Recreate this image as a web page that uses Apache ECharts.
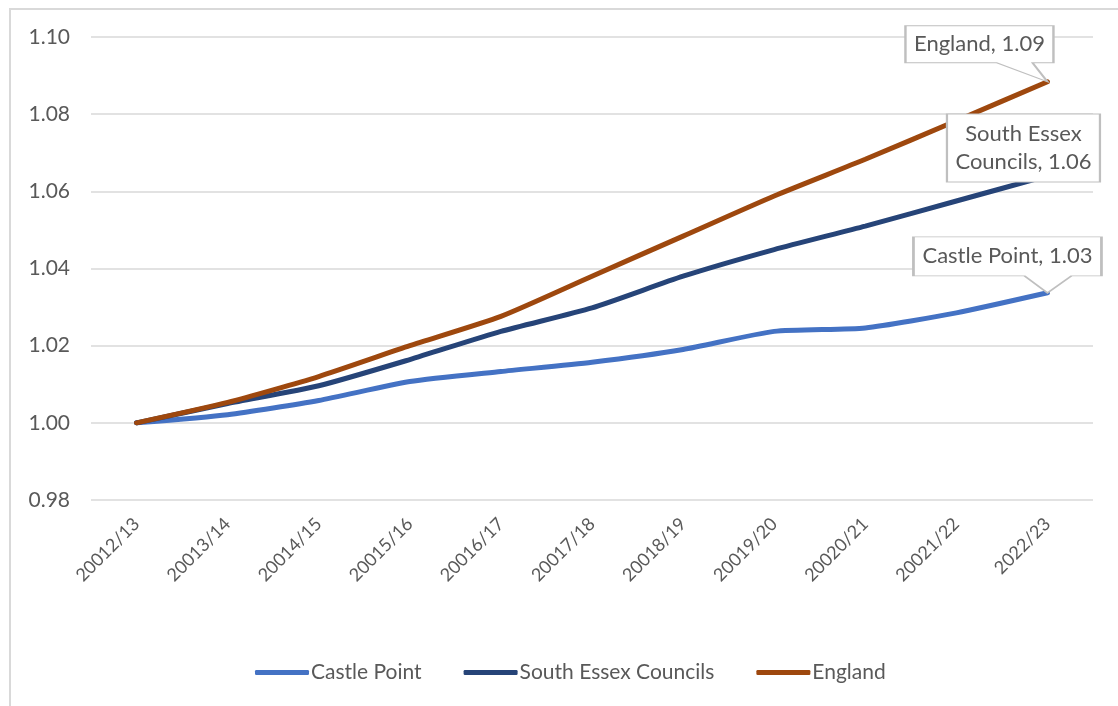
<!DOCTYPE html>
<html>
<head>
<meta charset="utf-8">
<script src="https://cdn.jsdelivr.net/npm/echarts@6/dist/echarts.min.js"></script>
<style>
html,body{margin:0;padding:0;background:#fff;}
#frame{position:absolute;left:9px;top:8px;right:0;bottom:0;border-top:2px solid #d9d9d9;border-left:2px solid #d9d9d9;}
#chart{position:absolute;left:0;top:0;width:1118px;height:706px;}
</style>
</head>
<body>
<div id="frame"></div>
<div id="chart"></div>
<script>
const categories = ["20012/13","20013/14","20014/15","20015/16","20016/17","20017/18","20018/19","20019/20","20020/21","20021/22","2022/23"];
const castlePoint = [1.000, 1.0021, 1.0058, 1.0107, 1.0133, 1.0157, 1.0190, 1.0237, 1.0246, 1.0285, 1.0337];
const southEssex  = [1.000, 1.0050, 1.0096, 1.0164, 1.0237, 1.0298, 1.0380, 1.0449, 1.0510, 1.0575, 1.0640];
const england     = [1.000, 1.0053, 1.0120, 1.0200, 1.0276, 1.0380, 1.0484, 1.0588, 1.0683, 1.0783, 1.0884];
const seriesNames = ["Castle Point", "South Essex Councils", "England"];
const yTicks = { min: 0.98, max: 1.10, interval: 0.02 };

const FONT = "Lato";
const TXT = "#595959";
const colors = ["#4472C4", "#264478", "#9E480E"];
const last = categories.length - 1;

function callout(values, path, size, offset, labelOffset, text, lh) {
  return {
    coord: [categories[last], values[last]],
    symbol: path,
    symbolSize: size,
    symbolOffset: offset,
    symbolKeepAspect: false,
    itemStyle: { color: "#ffffff", borderColor: "#bfbfbf", borderWidth: 1.5 },
    label: {
      show: true, position: "inside", offset: labelOffset,
      formatter: text, color: TXT, fontFamily: FONT, fontSize: 22, lineHeight: lh || 24, align: "center"
    }
  };
}

const chart = echarts.init(document.getElementById("chart"), null, { renderer: "canvas" });
const seriesData = [castlePoint, southEssex, england];

const option = {
  animation: false,
  color: colors,
  grid: { left: 91, right: 25, top: 37, bottom: 206, containLabel: false },
  legend: {
    bottom: 18, left: 250,
    data: seriesNames,
    icon: "roundRect",
    itemWidth: 54, itemHeight: 5, itemGap: 42,
    textStyle: { color: TXT, fontFamily: FONT, fontSize: 21, padding: [0, 0, 0, -3] }
  },
  xAxis: {
    type: "category", data: categories, boundaryGap: true,
    axisLine: { show: false }, axisTick: { show: false },
    axisLabel: { rotate: 45, color: TXT, fontFamily: FONT, fontSize: 18, margin: 21, interval: 0 }
  },
  yAxis: {
    type: "value", min: yTicks.min, max: yTicks.max, interval: yTicks.interval,
    axisLine: { show: false }, axisTick: { show: false },
    splitLine: { lineStyle: { color: "#d9d9d9", width: 1.5 } },
    axisLabel: { color: TXT, fontFamily: FONT, fontSize: 21, margin: 21, formatter: v => v.toFixed(2) }
  },
  series: seriesNames.map((n, i) => ({
    name: n, type: "line", data: seriesData[i],
    smooth: 0.2, showSymbol: false, symbol: "none",
    lineStyle: { width: 5, color: colors[i], cap: "round" },
    itemStyle: { color: colors[i] },
    z: 2 + i
  })).concat([{
    name: "callouts", type: "line", data: [], z: 10,
    markPoint: {
      silent: true, z: 10,
      data: [
        callout(england, "path://M0,0H148V37H127L142,56L91,37H0Z", [148, 56], [-68, -28], [0, -9.5],
          "England, " + england[last].toFixed(2)),
        callout(southEssex, "path://M0,0H153V68H0Z", [153, 68], [-24, -28], [0, 0],
          "South Essex\nCouncils, " + southEssex[last].toFixed(2), 28),
        callout(castlePoint, "path://M0,0H188V39H158L134,56L111,39H0Z", [188, 56], [-40, -28], [0, -8.5],
          "Castle Point, " + castlePoint[last].toFixed(2))
      ]
    }
  }])
};
chart.setOption(option);
</script>
</body>
</html>
